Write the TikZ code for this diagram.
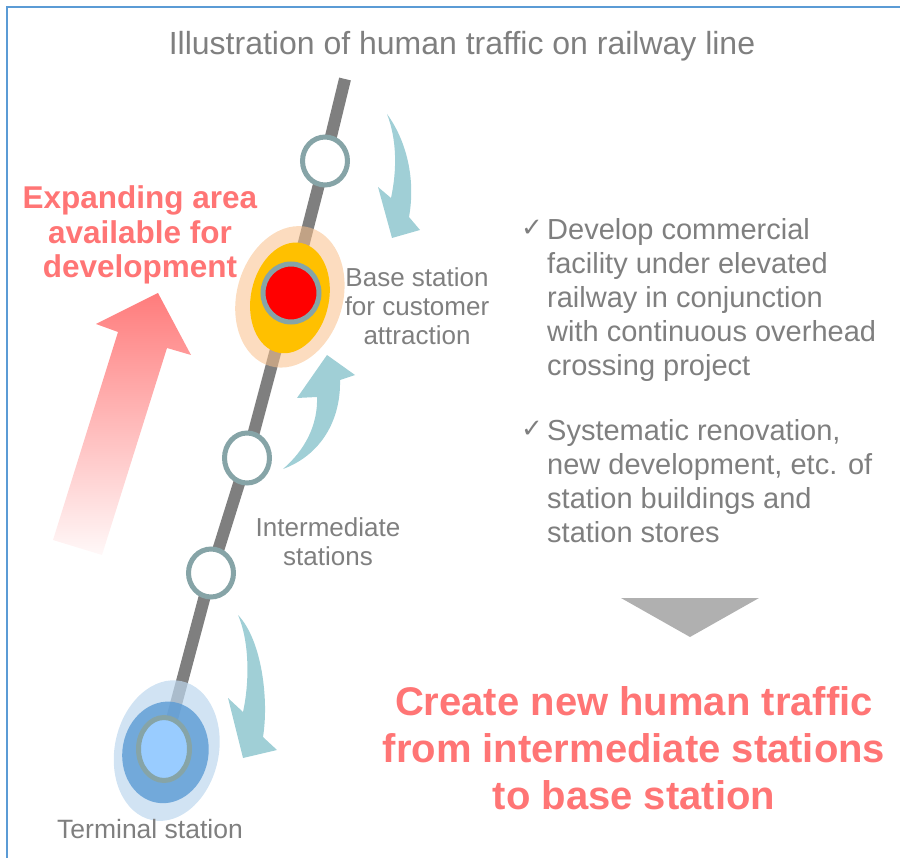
\documentclass[tikz,border=0pt]{standalone}
\usepackage{fontspec}
\setmainfont{Liberation Sans}
\newfontfamily\ticksymbol{DejaVu Sans}
\usetikzlibrary{shapes.geometric,calc}

\definecolor{framblue}{HTML}{5B9BD5}
\definecolor{railgray}{HTML}{7F7F7F}
\definecolor{ringgray}{HTML}{86A4A7}
\definecolor{flowcyan}{HTML}{A0CFD6}
\definecolor{salmon}{HTML}{FF7575}
\definecolor{textgray}{HTML}{7F7F7F}
\definecolor{peach}{HTML}{F9C08A}
\definecolor{amber}{HTML}{FFC000}
\definecolor{paleblue}{HTML}{BDD7EE}
\definecolor{midblue}{HTML}{5B9BD5}
\definecolor{skyblue}{HTML}{99CCFF}

\tikzset{
  stn/.style={ellipse, draw=ringgray, line width=5pt, fill=white,
    minimum width=45pt, minimum height=48pt, inner sep=0pt},
  flow/.style={fill=flowcyan},
  lbl/.style={text=textgray, font=\fontsize{26}{29}\selectfont, align=center},
  note/.style={text=textgray, font=\fontsize{29}{34}\selectfont, align=left,
    anchor=north west, inner sep=0pt},
  tick/.style={text=textgray, font=\ticksymbol\fontsize{26}{26}\selectfont, inner sep=0pt},
  slogan/.style={text=salmon, font=\bfseries\fontsize{40}{47}\selectfont, align=center}
}

\begin{document}
\begin{tikzpicture}[x=1pt,y=-1pt]
  \useasboundingbox (0,0) rectangle (900,858);
  % frame, open to the right and below
  \draw[framblue, line width=2.5pt] (7,870) -- (7,7) -- (912,7);

  % growth arrow on the left
  \shade[top color=salmon!95!white, bottom color=salmon!5!white]
    (158,293) -- (191,355) -- (167,348) -- (102,555) -- (53,540) -- (118,332) -- (96,324) -- cycle;

  % railway line through the stations
  \coordinate (top) at (345,79);
  \coordinate (p1) at (325,161);
  \coordinate (p2) at (291,293);
  \coordinate (p3) at (247,458);
  \coordinate (p4) at (211,573);
  \coordinate (p5) at (164,749);
  \draw[railgray, line width=12pt, line join=round] (top) -- (p1) -- (p2) -- (p3) -- (p4) -- (p5);

  % catchment of the base station
  \fill[peach, opacity=.55, rotate around={-16:(p2)}] ($(p2)+(0,4)$) ellipse (53 and 72);
  \fill[amber, rotate around={-12:(p2)}] ($(p2)+(0,5)$) ellipse (39 and 56);
  % catchment of the terminal
  \fill[paleblue, opacity=.7, rotate around={-12:(p5)}] ($(p5)+(3,1)$) ellipse (52 and 71);
  \fill[midblue, opacity=.8, rotate around={-10:(p5)}] ($(p5)+(2,3)$) ellipse (43 and 51);

  % stations
  \node[stn] (s1) at (p1) {};
  \node[stn, fill=red, minimum width=56pt, minimum height=58pt] (base) at (p2) {};
  \node[stn, minimum height=50pt] (m1) at (p3) {};
  \node[stn] (m2) at (p4) {};
  \node[stn, fill=skyblue, minimum width=51pt, minimum height=63pt] (term) at (p5) {};

  % flows of people
  \fill[flow] (387,114) .. controls (406,140) and (416,178) .. (409,217) -- (420,230) -- (392,238)
    -- (378,187) -- (391,198) .. controls (397,170) and (397,140) .. (387,114) -- cycle;
  \fill[flow] (283,469) .. controls (305,450) and (318,425) .. (317,397) -- (297,398) -- (327,355)
    -- (355,375) -- (340,380) .. controls (341,420) and (321,455) .. (283,469) -- cycle;
  \fill[flow] (238,615) .. controls (262,640) and (269,700) .. (263,737) -- (277,750) -- (243,758)
    -- (228,698) -- (243,712) .. controls (250,680) and (249,640) .. (238,615) -- cycle;

  % down arrow
  \fill[black!31] (621,598) -- (759,598) -- (690,637) -- cycle;

  % texts
  \node[text=textgray, font=\fontsize{32}{34}\selectfont, anchor=base] (title) at (462,55)
    {Illustration of human traffic on railway line};
  \node[slogan, font=\bfseries\fontsize{31.5}{34.5}\selectfont] (expand) at (140,235)
    {Expanding area\\available for\\development};
  \node[lbl] (basel) at (417,306) {Base station\\for customer\\attraction};
  \node[lbl] (midl) at (328,542) {Intermediate\\stations};
  \node[lbl, anchor=base, font=\fontsize{26.5}{29}\selectfont] (terml) at (150,838) {Terminal station};

  \node[note] (dev) at (547,218) {Develop commercial\\facility under elevated\\railway in conjunction\\with continuous overhead\\crossing project};
  \node[note] (renew) at (547,419) {Systematic renovation,\\new development, etc. of\\station buildings and\\station stores};
  \node[tick, anchor=base east] at (543,237) {✓};
  \node[tick, anchor=base east] at (543,438) {✓};

  \node[slogan] (create) at (634,748) {Create new human traffic\\from intermediate stations\\to base station};
\end{tikzpicture}
\end{document}
